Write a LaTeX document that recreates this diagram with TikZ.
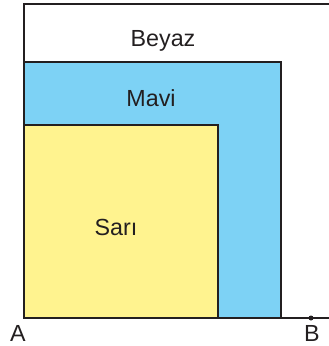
\documentclass[tikz,border=0pt]{standalone}
\usepackage{fontspec}
\setmainfont{Liberation Sans}
\definecolor{mavi}{RGB}{125,210,245}
\definecolor{sari}{RGB}{255,243,143}
\definecolor{cizgi}{RGB}{35,31,32}
\begin{document}
\begin{tikzpicture}[x=1pt,y=-1pt,
  kutu/.style={draw=cizgi,line width=1.5pt},
  etiket/.style={anchor=base,inner sep=0pt,text=cizgi,font=\fontsize{23.3}{28}\selectfont}]
\useasboundingbox (0,0) rectangle (329,346);
\begin{scope}
\clip (0,0) rectangle (329,346);
\draw[draw=cizgi,line width=1.1pt] (24,318) -- (24,4) -- (340,4);
\draw[draw=cizgi,line width=1.1pt] (24,318) -- (340,318);
\end{scope}
\filldraw[kutu,fill=mavi] (24,318) rectangle (281,62);
\filldraw[kutu,fill=sari] (24,318) rectangle (218,125);
\coordinate (Bpt) at (311,318);
\fill[cizgi] (Bpt) circle (2.5pt);
\node[etiket] (beyaz) at (163,46) {Beyaz};
\node[etiket] (mavil) at (151,106) {Mavi};
\node[etiket] (saril) at (116,235) {Sarı};
\node[etiket] (A) at (18,341) {A};
\node[etiket] (B) at (312,341) {B};
\end{tikzpicture}
\end{document}
